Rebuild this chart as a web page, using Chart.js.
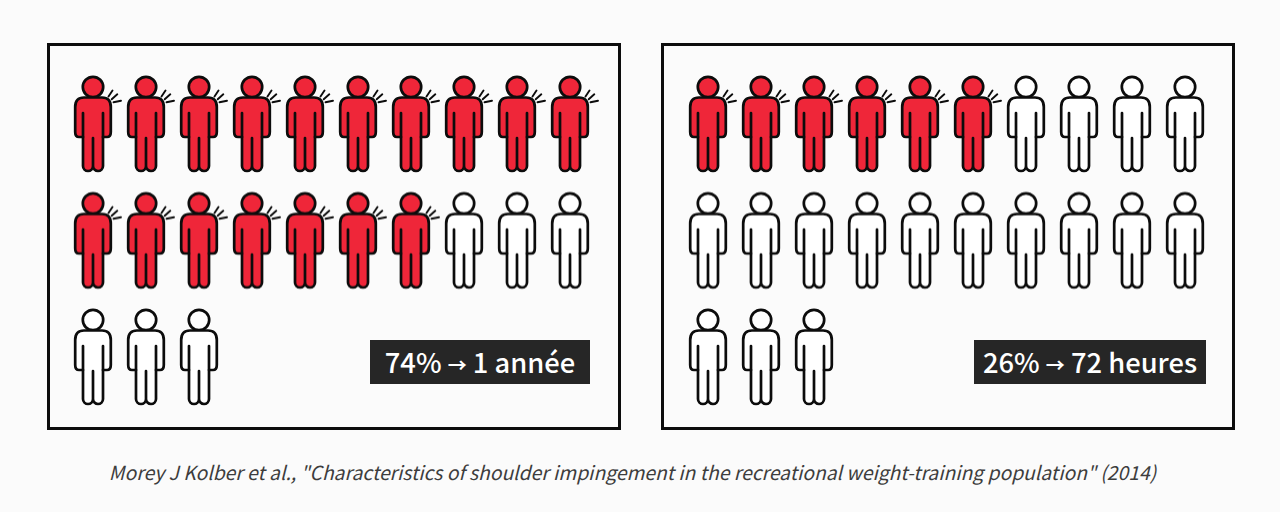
<!DOCTYPE html>
<html>
<head>
<meta charset="utf-8">
<script src="https://cdn.jsdelivr.net/npm/chart.js@4"></script>
<style>
  html, body { margin: 0; padding: 0; background: #fbfbfb; }
  body { position: relative; width: 1280px; height: 512px; overflow: hidden; font-family: "Noto Sans CJK JP", "Noto Sans", sans-serif; }
  .panel { position: absolute; top: 43px; width: 568px; height: 381px; border: 3px solid #0c0c0c; }
  .panel canvas { position: absolute; left: 0; top: 0; }
  .tag { position: absolute; top: 294px; height: 44px; line-height: 43px; background: #262626; color: #fff; font-size: 27.3px; font-weight: 500; text-align: center; white-space: nowrap; }
  .tag span { font-size: 19px; font-weight: 700; }
  #caption { position: absolute; left: 0; width: 1265px; top: 458px; text-align: center; font-size: 19.3px; font-style: italic; color: #3d3d3d; white-space: nowrap; }
</style>
</head>
<body>
<div class="panel" style="left:47px"><canvas id="chartYear"></canvas><div class="tag" style="left:320px;width:220px">74% <span>→</span> 1 année</div></div>
<div class="panel" style="left:661px"><canvas id="chartHours"></canvas><div class="tag" style="left:310px;width:232px">26% <span>→</span> 72 heures</div></div>
<div id="caption">Morey J Kolber et al., "Characteristics of shoulder impingement in the recreational weight-training population" (2014)</div>
<script>
// each list is one figure per person, read left to right, top to bottom
const columns = [0,1,2,3,4,5,6,7,8,9, 0,1,2,3,4,5,6,7,8,9, 0,1,2];
const rows    = [0,0,0,0,0,0,0,0,0,0, 1,1,1,1,1,1,1,1,1,1, 2,2,2];
// 1 = shoulder pain, 0 = none
const painYear  = [1,1,1,1,1,1,1,1,1,1, 1,1,1,1,1,1,1,0,0,0, 0,0,0];
const painHours = [1,1,1,1,1,1,0,0,0,0, 0,0,0,0,0,0,0,0,0,0, 0,0,0];

const RED = '#ef2639';
const INK = '#0c0c0c';

function personIcon(pain) {
    const c = document.createElement('canvas');
    c.width = 64;
    c.height = 104;
    const g = c.getContext('2d');
    g.translate(32, 52);
    g.lineWidth = 2.7;
    g.strokeStyle = INK;
    g.fillStyle = pain ? RED : '#ffffff';
    g.lineJoin = 'round';
    g.lineCap = 'round';

    // head
    g.beginPath();
    g.arc(0, -37, 10.2, 0, Math.PI * 2);
    g.fill();
    g.stroke();

    // body outline
    g.beginPath();
    g.moveTo(-9, -26.5);
    g.lineTo(9, -26.5);
    g.quadraticCurveTo(17.8, -26.5, 17.8, -17);
    g.lineTo(17.8, 8);
    g.quadraticCurveTo(17.8, 13, 14, 13);
    g.lineTo(10, 13);
    g.lineTo(10, 42);
    g.arc(5, 42, 5, 0, Math.PI);
    g.lineTo(0, 14);
    g.lineTo(0, 42);
    g.arc(-5, 42, 5, 0, Math.PI);
    g.lineTo(-10, 13);
    g.lineTo(-14, 13);
    g.quadraticCurveTo(-17.8, 13, -17.8, 8);
    g.lineTo(-17.8, -17);
    g.quadraticCurveTo(-17.8, -26.5, -9, -26.5);
    g.closePath();
    g.fill();
    g.stroke();

    // arm seams
    g.beginPath();
    g.moveTo(-10, -11);
    g.lineTo(-10, 13);
    g.moveTo(10, -11);
    g.lineTo(10, 13);
    g.stroke();

    if (pain) {
        g.lineWidth = 1.9;
        g.beginPath();
        g.moveTo(15.5, -27.5);
        g.lineTo(19.5, -33.5);
        g.moveTo(18.7, -24.7);
        g.lineTo(24.3, -29.7);
        g.moveTo(20.5, -21.7);
        g.lineTo(28, -23.3);
        g.stroke();
    }
    return c;
}

const painIcon = personIcon(true);
const plainIcon = personIcon(false);

function drawPanel(id, flags, leftPad) {
    new Chart(document.getElementById(id), {
        type: 'scatter',
        data: {
            datasets: [{
                data: columns.map((col, i) => ({ x: col, y: rows[i] })),
                pointStyle: flags.map(f => f ? painIcon : plainIcon),
                pointRadius: 30,
                clip: false
            }]
        },
        options: {
            responsive: false,
            animation: false,
            layout: { padding: { left: leftPad, right: 91 - leftPad, top: 78, bottom: 70 } },
            plugins: { legend: { display: false }, tooltip: { enabled: false } },
            scales: {
                x: { display: false, min: 0, max: 9 },
                y: { display: false, min: 0, max: 2, reverse: true }
            }
        }
    });
}

for (const id of ['chartYear', 'chartHours']) {
    const el = document.getElementById(id);
    el.width = 568;
    el.height = 381;
}
drawPanel('chartYear', painYear, 43);
drawPanel('chartHours', painHours, 44);
</script>
</body>
</html>
